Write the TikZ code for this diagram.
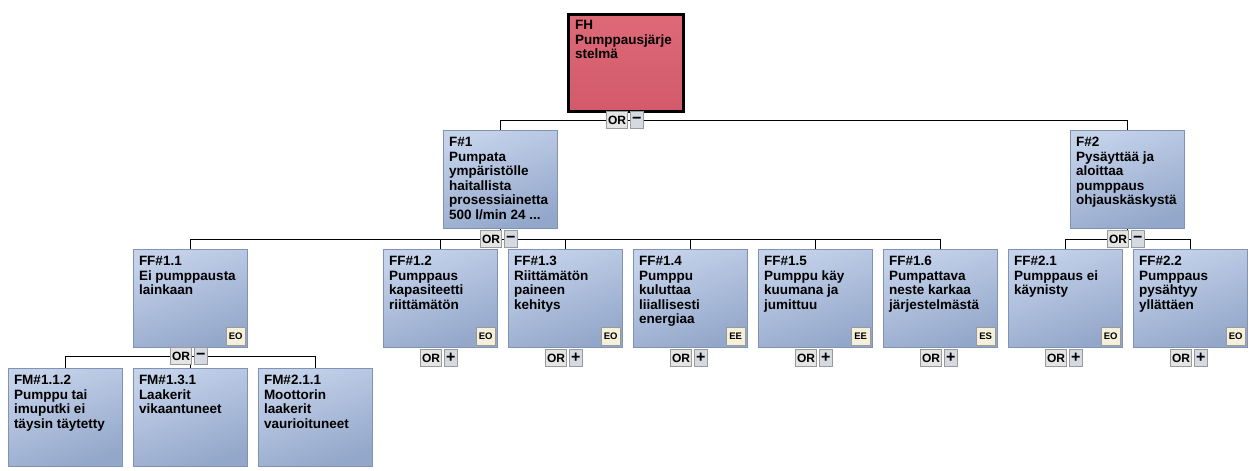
\documentclass[tikz,border=0pt]{standalone}
\usepackage{fontspec}
\setmainfont{Liberation Sans}
\usetikzlibrary{positioning,calc}
\definecolor{boxtop}{HTML}{C4D2EA}
\definecolor{boxbot}{HTML}{93A7CA}
\definecolor{boxline}{HTML}{8192B4}
\definecolor{roottop}{HTML}{DE6977}
\definecolor{rootbot}{HTML}{D25A6A}
\definecolor{gatefill}{HTML}{E4E4E4}
\definecolor{gateline}{HTML}{9A9A9A}
\definecolor{signfill}{HTML}{D5D9E2}
\definecolor{badgefill}{HTML}{F5F0DA}
\newcommand{\boxfont}{\bfseries\fontsize{13.5}{14.5}\selectfont}
% OR gate: name, centre coordinate, sign
\newcommand{\orgate}[3]{%
  \node[gateor, anchor=east] (#1) at ([xshift=2pt]#2) {OR};
  \node[gatesign, right=2pt of #1] (#1s) {#3};}
\tikzset{
  fbox/.style={draw=boxline, line width=1pt, top color=boxtop, bottom color=boxbot,
    shading angle=20, anchor=north, minimum width=114pt, minimum height=98pt,
    inner sep=0pt, font=\boxfont,
    execute at begin node={\begin{minipage}[t][84pt][t]{102pt}\raggedright},
    execute at end node={\end{minipage}}},
  rootbox/.style={fbox, draw=black, line width=3pt, top color=roottop,
    bottom color=rootbot, minimum width=115pt, minimum height=97pt},
  badge/.style={draw=gateline, line width=0.6pt, fill=badgefill, anchor=south east,
    minimum width=19pt, minimum height=18pt, inner sep=0pt,
    font=\bfseries\fontsize{9.5}{10}\selectfont},
  gateor/.style={draw=gateline, line width=0.8pt, fill=gatefill, minimum width=21pt,
    minimum height=17pt, inner sep=0pt, font=\bfseries\fontsize{12}{12}\selectfont},
  gatesign/.style={gateor, fill=signfill, minimum width=13pt,
    font=\bfseries\fontsize{16}{16}\selectfont},
  tree/.style={line width=1pt, black}
}
\begin{document}
\begin{tikzpicture}[x=1pt, y=-1pt]
  \useasboundingbox[fill=white] (0,0) rectangle (1254,471);
  % boxes
  \node[rootbox] (fh) at (626,12.5) {FH\\Pumppausjärje\\stelmä};
  \node[fbox] (f1) at (500,130) {F\#1\\Pumpata\\ympäristölle\\haitallista\\prosessiainetta\\500 l/min 24 ...};
  \node[fbox] (f2) at (1127,130) {F\#2\\Pysäyttää ja\\aloittaa\\pumppaus\\ohjauskäskystä};
  \foreach \n/\x/\t/\b in {
      ff11/190/{FF\#1.1\\Ei pumppausta\\lainkaan}/EO,
      ff12/440/{FF\#1.2\\Pumppaus\\kapasiteetti\\riittämätön}/EO,
      ff13/565/{FF\#1.3\\Riittämätön\\paineen\\kehitys}/EO,
      ff14/690/{FF\#1.4\\Pumppu\\kuluttaa\\liiallisesti\\energiaa}/EE,
      ff15/815/{FF\#1.5\\Pumppu käy\\kuumana ja\\jumittuu}/EE,
      ff16/940/{FF\#1.6\\Pumpattava\\neste karkaa\\järjestelmästä}/ES,
      ff21/1065/{FF\#2.1\\Pumppaus ei\\käynisty}/EO,
      ff22/1190/{FF\#2.2\\Pumppaus\\pysähtyy\\yllättäen}/EO} {
    \node[fbox] (\n) at (\x,249) {\t};
    \node[badge] at ([xshift=-2pt, yshift=2pt]\n.south east) {\b};
  }
  \foreach \n/\x/\t in {
      fm112/65/{FM\#1.1.2\\Pumppu tai\\imuputki ei\\täysin täytetty},
      fm131/190/{FM\#1.3.1\\Laakerit\\vikaantuneet},
      fm211/315/{FM\#2.1.1\\Moottorin\\laakerit\\vaurioituneet}}
    \node[fbox] (\n) at (\x,368) {\t};
  % connectors
  \coordinate (g0) at (626,120);
  \coordinate (g1) at (500,239);
  \coordinate (g2) at (1127,239);
  \coordinate (g11) at (190,356);
  \draw[tree] (fh.south) -- (g0) (g0) -| (f1.north) (g0) -| (f2.north);
  \draw[tree] (f1.south) -- (g1);
  \foreach \c in {ff11,ff12,ff13,ff14,ff15,ff16}
    \draw[tree] (g1) -| (\c.north);
  \draw[tree] (f2.south) -- (g2) (g2) -| (ff21.north) (g2) -| (ff22.north);
  \draw[tree] (ff11.south) -- (g11);
  \foreach \c in {fm112,fm131,fm211}
    \draw[tree] (g11) -| (\c.north);
  % gates
  \orgate{or0}{g0}{−}
  \orgate{or1}{g1}{−}
  \orgate{or2}{g2}{−}
  \orgate{or11}{g11}{−}
  \foreach \c in {ff12,ff13,ff14,ff15,ff16,ff21,ff22} {
    \coordinate (g\c) at ($(\c.south)+(0,10)$);
    \orgate{or\c}{g\c}{+}
  }
\end{tikzpicture}
\end{document}
